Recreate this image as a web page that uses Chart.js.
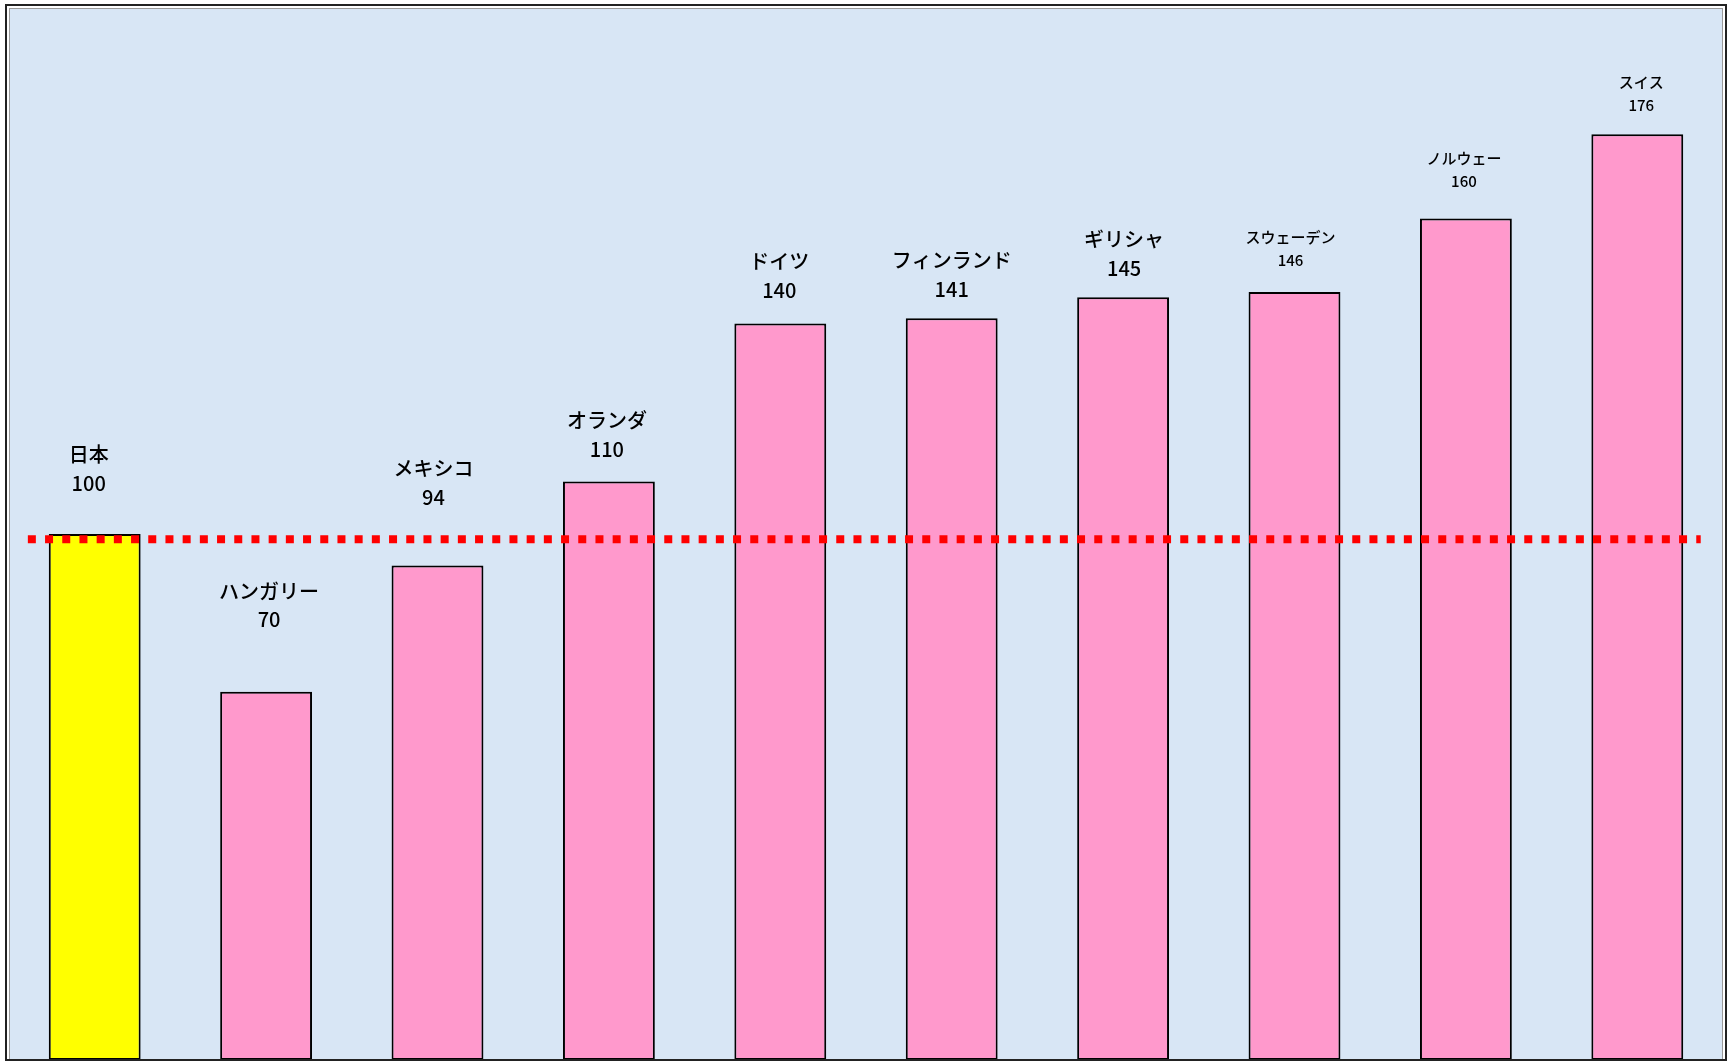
<!DOCTYPE html>
<html lang="ja">
<head>
<meta charset="utf-8">
<title>chart</title>
<script src="https://cdn.jsdelivr.net/npm/chart.js@4.4.1/dist/chart.umd.min.js"></script>
<style>
  html, body { margin: 0; padding: 0; background: #ffffff; }
  #wrap { width: 1734px; height: 1063px; position: relative; }
</style>
</head>
<body>
<div id="wrap"><canvas id="countryChart"></canvas></div>
<script>
// data
let countryNames = ["日本", "ハンガリー", "メキシコ", "オランダ", "ドイツ", "フィンランド", "ギリシャ", "スウェーデン", "ノルウェー", "スイス"];
let countryValues = [100, 70, 94, 110, 140, 141, 145, 146, 160, 176];
let refLineX = [-0.39, 9.37];
let refLineY = [99, 99];

// styles
let barColors = countryNames.map(function (n, i) { return i == 0 ? "#ffff00" : "#ff99cc"; });
let labelFontSize = [20, 20, 20, 20, 20, 20, 20, 15, 15, 15];
let labelGap = [51, 72, 68, 32, 33, 29, 29, 32, 37, 29];   // px from bar top to value line
let labelDx = [-6, 3, -4, -2, -1, 0, 1, -4, -2, 4];

const FONT = '"Noto Sans CJK JP", "Noto Sans", sans-serif';

const frameAndBg = {
    id: "frameAndBg",
    beforeDraw(chart) {
        let ctx = chart.ctx;
        let a = chart.chartArea;
        ctx.save();
        ctx.fillStyle = "#d8e6f5";
        ctx.fillRect(a.left, a.top, a.right - a.left, a.bottom - a.top);
        ctx.restore();
    },
    afterDraw(chart) {
        let ctx = chart.ctx;
        let a = chart.chartArea;
        ctx.save();
        ctx.strokeStyle = "#9a9a9a";
        ctx.lineWidth = 1;
        ctx.strokeRect(a.left + 0.5, a.top + 0.5, a.right - a.left - 1, a.bottom - a.top - 1);
        ctx.strokeStyle = "#222222";
        ctx.lineWidth = 2;
        ctx.strokeRect(6, 5, 1720, 1055);
        ctx.restore();
    }
};

const barLabels = {
    id: "barLabels",
    afterDatasetsDraw(chart) {
        let ctx = chart.ctx;
        let meta = chart.getDatasetMeta(0);
        ctx.save();
        ctx.fillStyle = "#000000";
        ctx.textAlign = "center";
        ctx.textBaseline = "middle";
        meta.data.forEach(function (bar, i) {
            let fs = labelFontSize[i];
            let x = bar.x + labelDx[i];
            let yVal = bar.y - labelGap[i];
            let lineH = fs >= 20 ? 28.7 : 23;
            ctx.font = "500 " + fs + "px " + FONT;
            ctx.fillText(countryNames[i], x, yVal - lineH);
            ctx.fillText(String(countryValues[i]), x, yVal);
        });
        ctx.restore();
    }
};

let refPoints = refLineX.map(function (x, i) { return { x: x, y: refLineY[i] }; });

let countryChart = new Chart("countryChart", {
    type: "bar",
    data: {
        labels: countryNames,
        datasets: [
            {
                type: "bar",
                data: countryValues,
                backgroundColor: barColors,
                borderColor: "#000000",
                borderWidth: 2,
                borderSkipped: false,
                grouped: false,
                categoryPercentage: 1,
                barPercentage: 0.536,
                xAxisID: "x",
                yAxisID: "y",
                order: 1
            },
            {
                type: "line",
                data: refPoints,
                borderColor: "#ff0000",
                borderWidth: 8,
                borderDash: [8, 9.2],
                borderCapStyle: "butt",
                pointRadius: 0,
                fill: false,
                xAxisID: "x2",
                yAxisID: "y",
                order: 0
            }
        ]
    },
    options: {
        responsive: true,
        maintainAspectRatio: false,
        animation: false,
        layout: { padding: { left: 9, right: 11, top: 8, bottom: 3 } },
        plugins: {
            legend: { display: false },
            title: { display: false },
            tooltip: { enabled: false }
        },
        scales: {
            x: { type: "category", display: false, offset: true },
            x2: { type: "linear", display: false, offset: false, min: -0.5, max: 9.5 },
            y: { display: false, min: 0, max: 200 }
        }
    },
    plugins: [frameAndBg, barLabels]
});
</script>
</body>
</html>
